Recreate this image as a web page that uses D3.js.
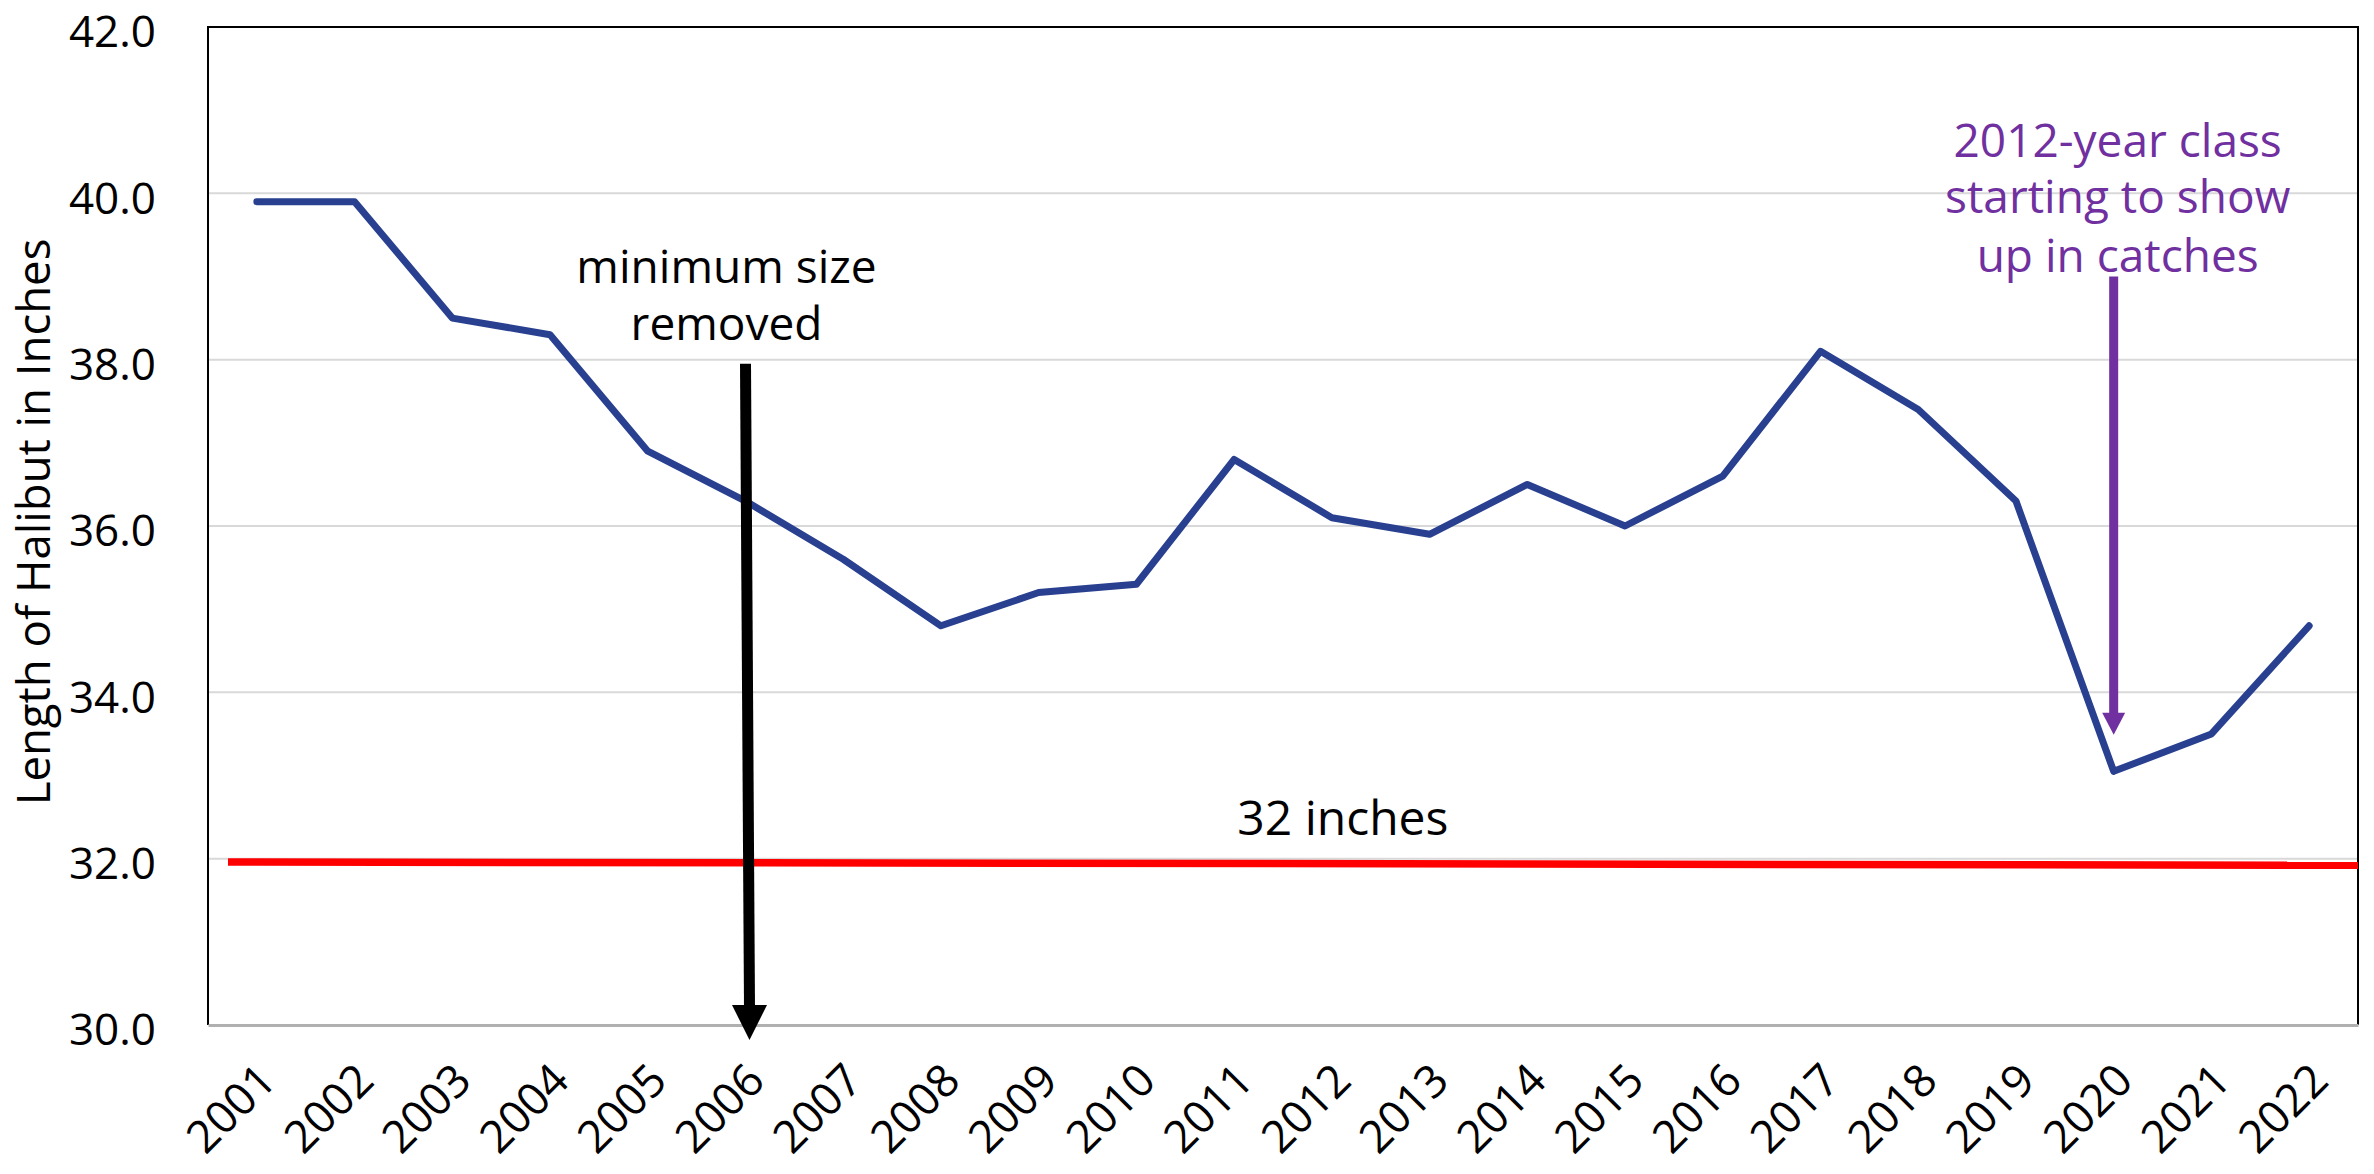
<!DOCTYPE html>
<html>
<head>
<meta charset="utf-8">
<script src="https://cdn.jsdelivr.net/npm/d3@7"></script>
<style>
  body { margin: 0; background: #fff; }
  svg { display: block; font-family: "Open Sans", "Noto Sans", sans-serif; }
</style>
</head>
<body>
<div id="chart"></div>
<script>
// our data
const years = ['2001', '2002', '2003', '2004', '2005', '2006', '2007', '2008', '2009', '2010', '2011',
	'2012', '2013', '2014', '2015', '2016', '2017', '2018', '2019', '2020', '2021', '2022']
const lengths = [39.9, 39.9, 38.5, 38.3, 36.9, 36.3, 35.6, 34.8, 35.2, 35.3, 36.8,
	36.1, 35.9, 36.5, 36.0, 36.6, 38.1, 37.4, 36.3, 33.05, 33.5, 34.8]
const yTicks = [30, 32, 34, 36, 38, 40, 42]
const minSize = [31.96, 31.92] // red 32 inch line, left end and right end

// annotation text, anchored to a year and a value
const blackNote = {year: '2006', lines: ['minimum size', 'removed'], values: [38.92, 38.24], dx: -19}
const blackArrow = {year: '2006', from: 37.95, to: 29.82}
const purpleNote = {year: '2020', lines: ['2012-year class', 'starting to show', 'up in catches'], values: [40.44, 39.76, 39.05], dx: 4}
const purpleArrow = {year: '2020', from: 39.0, to: 33.49}
const lineNote = {year: '2012', text: '32 inches', value: 32.29, dx: 11}

const width = 2374
const height = 1174
const margin = {left: 208, right: 16, top: 27, bottom: 149}

const $svg = d3.select('#chart')
	.append('svg')
	.attr('width', width)
	.attr('height', height)

const x = d3.scalePoint()
	.domain(years)
	.range([margin.left, width - margin.right])
	.padding(0.5)

const y = d3.scaleLinear()
	.domain([30, 42])
	.range([height - margin.bottom, margin.top])

// gridlines
$svg.append('g')
	.selectAll('line')
	.data(yTicks.slice(1, -1))
	.join('line')
		.attr('x1', margin.left)
		.attr('x2', width - margin.right)
		.attr('y1', d => y(d))
		.attr('y2', d => y(d))
		.attr('stroke', '#d9d9d9')
		.attr('stroke-width', 2)

// plot frame
$svg.append('path')
	.attr('d', `M${margin.left},${y(30)} V${y(42)} H${width - margin.right} V${y(30)}`)
	.attr('fill', 'none')
	.attr('stroke', '#000')
	.attr('stroke-width', 2)

// y axis labels (nudged down a bit so 42.0 is not clipped at the top)
const yAxis = $svg.append('g')
	.attr('transform', `translate(${margin.left - 52},4)`)
	.call(d3.axisLeft(y).tickValues(yTicks).tickFormat(d3.format('.1f')).tickSize(0).tickPadding(0))
yAxis.select('.domain').remove()
yAxis.selectAll('text')
	.attr('font-family', '"Open Sans", sans-serif')
	.attr('font-size', 44)
	.attr('fill', '#000')
	.attr('dy', '0.36em')

// x axis
const xAxis = $svg.append('g')
	.attr('transform', `translate(0,${y(30)})`)
	.call(d3.axisBottom(x).tickSize(0).tickPadding(0))
xAxis.select('.domain')
	.attr('stroke', '#b0b0b0')
	.attr('stroke-width', 3)
xAxis.selectAll('text')
	.attr('font-family', '"Open Sans", sans-serif')
	.attr('font-size', 45)
	.attr('fill', '#000')
	.attr('text-anchor', 'end')
	.attr('dy', null)
	.attr('y', 0)
	.attr('transform', 'translate(21,58) rotate(-45)')

// y axis title
$svg.append('text')
	.attr('transform', `translate(50,${(y(30) + y(42)) / 2 - 4}) rotate(-90)`)
	.attr('text-anchor', 'middle')
	.attr('font-size', 45.5)
	.attr('fill', '#000')
	.text('Length of Halibut in Inches')

// red 32 inch line
$svg.append('line')
	.attr('x1', margin.left + 20)
	.attr('x2', width - margin.right)
	.attr('y1', y(minSize[0]))
	.attr('y2', y(minSize[1]))
	.attr('stroke', '#ff0000')
	.attr('stroke-width', 7.5)

// the series
$svg.append('path')
	.datum(lengths)
	.attr('fill', 'none')
	.attr('stroke', '#28408f')
	.attr('stroke-width', 7)
	.attr('stroke-linejoin', 'round')
	.attr('stroke-linecap', 'round')
	.attr('d', d3.line().x((d, i) => x(years[i])).y(d => y(d)))

// arrows
const drawArrow = (a, color, shaft, headW, headH, tipDx) => {
	const x0 = x(a.year), y0 = y(a.from), y1 = y(a.to)
	const xt = x0 + tipDx
	$svg.append('line')
		.attr('x1', x0).attr('y1', y0)
		.attr('x2', xt).attr('y2', y1 - headH + 2)
		.attr('stroke', color)
		.attr('stroke-width', shaft)
	$svg.append('path')
		.attr('d', `M${xt - headW / 2},${y1 - headH} L${xt + headW / 2},${y1 - headH} L${xt},${y1} Z`)
		.attr('fill', color)
}
drawArrow(blackArrow, '#000', 11, 35, 35, 4)
drawArrow(purpleArrow, '#7030a0', 9, 23, 22, 0)

// annotation text
$svg.append('g')
	.selectAll('text')
	.data(blackNote.lines)
	.join('text')
		.attr('x', x(blackNote.year) + blackNote.dx)
		.attr('y', (d, i) => y(blackNote.values[i]))
		.attr('text-anchor', 'middle')
		.attr('font-size', 46)
		.attr('fill', '#000')
		.text(d => d)

$svg.append('g')
	.selectAll('text')
	.data(purpleNote.lines)
	.join('text')
		.attr('x', x(purpleNote.year) + purpleNote.dx)
		.attr('y', (d, i) => y(purpleNote.values[i]))
		.attr('text-anchor', 'middle')
		.attr('font-size', 46)
		.attr('fill', '#7030a0')
		.text(d => d)

$svg.append('text')
	.attr('x', x(lineNote.year) + lineNote.dx)
	.attr('y', y(lineNote.value))
	.attr('text-anchor', 'middle')
	.attr('font-size', 48)
	.attr('fill', '#000')
	.text(lineNote.text)
</script>
</body>
</html>
